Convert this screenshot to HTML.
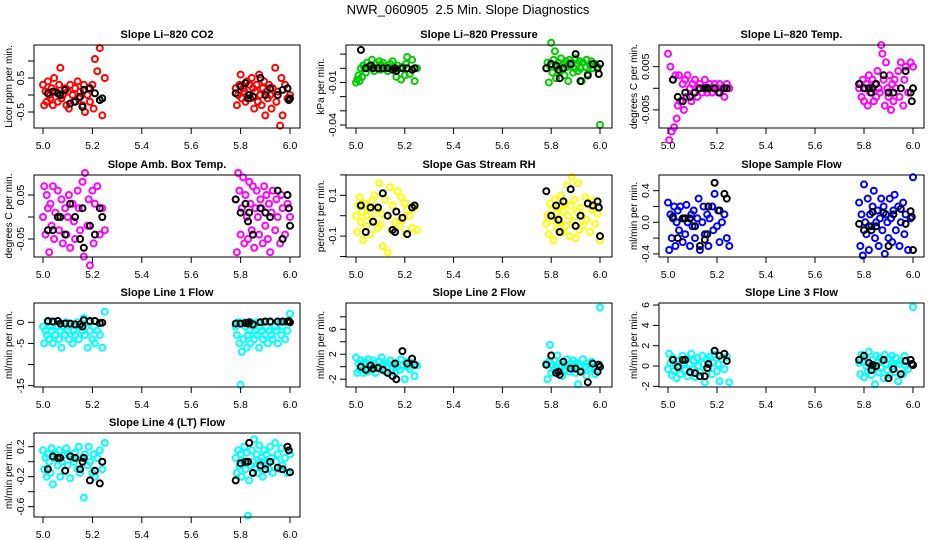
<!DOCTYPE html>
<html><head><meta charset="utf-8"><style>
html,body{margin:0;padding:0;background:#fff}
svg{display:block;font-family:"Liberation Sans",Arial,sans-serif}
</style></head><body>
<svg id="chart" width="936" height="540" viewBox="0 0 936 540">
<rect x="0" y="0" width="936" height="540" fill="#fff"/>
<text x="468" y="14" text-anchor="middle" font-size="13" xml:space="preserve">NWR_060905  2.5 Min. Slope Diagnostics</text>
</svg>
<script>
// shared time axis (days)
const times = [5.00,5.005,5.01,5.015,5.02,5.025,5.03,5.035,5.04,5.045,5.05,5.06,5.065,5.07,5.075,5.08,5.09,5.095,5.10,5.105,5.11,5.12,5.125,5.13,5.14,5.145,5.15,5.16,5.165,5.17,5.18,5.185,5.19,5.20,5.205,5.21,5.22,5.23,5.24,5.25,
5.78,5.785,5.79,5.795,5.80,5.805,5.81,5.815,5.82,5.825,5.83,5.835,5.84,5.845,5.85,5.855,5.86,5.865,5.87,5.875,5.88,5.885,5.89,5.895,5.90,5.905,5.91,5.915,5.92,5.925,5.93,5.94,5.945,5.95,5.96,5.965,5.97,5.98,5.99,6.00];
const blackTimes = [5.02,5.04,5.06,5.07,5.09,5.11,5.13,5.15,5.16,5.165,5.19,5.21,5.23,5.24,5.78,5.80,5.82,5.83,5.835,5.85,5.88,5.90,5.92,5.95,5.97,5.99,5.995,6.00];
const xTicks = [5.0,5.2,5.4,5.6,5.8,6.0];
const xTickLabels = ["5.0","5.2","5.4","5.6","5.8","6.0"];

const co2Vals = [0.3,-0.3,0.1,-0.2,0.4,0.0,-0.1,0.2,-0.3,0.5,0.1,-0.2,0.3,0.8,-0.1,0.0,0.2,-0.3,0.1,-0.4,0.3,0.0,-0.2,0.2,0.4,-0.1,0.1,-0.3,0.3,-0.5,0.0,0.2,-0.2,0.3,-0.4,1.06,0.7,1.38,-0.6,0.5,
0.2,-0.3,0.0,0.3,0.6,-0.1,0.2,0.1,-0.2,0.4,0.0,0.3,-0.1,0.5,0.2,-0.4,0.1,0.3,-0.2,0.6,0.0,-0.3,0.2,0.4,-0.6,0.1,-0.1,0.3,0.0,-0.4,0.2,0.8,-0.2,0.1,-0.9,0.5,-0.6,0.3,-0.1,0.0];
const co2Black = [0.05,0.1,0.05,0.0,0.15,-0.25,-0.2,-0.05,-0.35,0.15,0.2,0.05,-0.15,-0.1,0.05,0.25,0.35,-0.1,0.0,-0.05,0.5,0.0,0.2,0.0,0.15,0.2,-0.15,-0.1];

const presVals = [-0.01,-0.008,-0.005,-0.009,0.0,-0.006,0.002,0.0,-0.003,0.004,0.0,0.002,0.006,0.001,-0.002,0.003,0.0,0.005,-0.001,0.002,0.004,0.0,0.001,-0.002,0.003,0.0,0.005,-0.001,-0.006,0.002,0.0,-0.008,0.001,-0.005,0.003,0.008,-0.004,0.006,-0.009,0.0,
0.0,0.004,-0.01,0.002,0.018,-0.003,0.006,0.012,-0.007,0.001,0.004,-0.002,0.007,0.0,0.003,-0.005,0.005,0.001,-0.009,0.006,0.002,0.004,-0.003,0.0,0.007,0.003,-0.002,0.005,0.0,-0.009,0.004,0.001,0.006,-0.004,0.002,0.005,0.0,0.003,0.001,-0.04];
const presBlack = [0.013,0.0,0.002,0.0,0.0,0.0,0.0,-0.001,0.0,-0.002,0.0,0.0,-0.001,0.0,0.0,0.003,0.002,-0.001,-0.007,0.0,0.003,0.01,-0.009,-0.005,0.003,0.0,-0.004,0.003];

const tempVals = [0.008,-0.012,0.005,-0.01,0.002,-0.009,0.003,-0.007,-0.004,0.003,-0.003,0.001,-0.005,0.002,-0.002,0.003,0.0,-0.003,0.001,-0.001,0.002,-0.002,0.0,0.001,-0.001,0.0,0.002,-0.001,0.0,0.001,-0.001,0.0,0.001,0.0,-0.001,0.001,0.0,-0.002,0.001,0.0,
0.0,0.001,-0.002,0.002,-0.003,0.0,0.001,-0.004,0.003,-0.001,0.0,0.002,-0.003,0.001,-0.002,0.004,0.0,-0.001,0.01,0.008,0.002,-0.004,0.006,0.0,-0.002,0.003,-0.005,0.001,-0.003,0.002,0.0,0.004,-0.002,0.006,-0.004,0.002,0.005,-0.001,0.006,0.005];
const tempBlack = [0.002,-0.002,-0.003,-0.001,-0.002,-0.001,0.0,0.0,0.0,0.0,0.0,-0.001,0.0,0.0,0.001,0.0,0.0,-0.001,0.0,0.001,0.003,-0.001,-0.001,0.0,0.004,-0.001,-0.003,0.0];

const ambVals = [0.0,0.07,-0.04,0.05,0.02,-0.08,0.03,-0.02,0.07,-0.05,0.01,0.06,-0.03,0.0,0.04,-0.06,0.02,-0.04,0.0,0.05,-0.07,0.03,-0.01,-0.05,0.06,0.02,-0.03,0.08,-0.09,0.1,-0.02,0.04,-0.11,0.06,-0.06,0.03,0.07,-0.04,0.02,-0.03,
0.04,-0.08,0.1,0.06,-0.04,0.02,0.09,-0.06,0.05,0.0,-0.05,0.08,0.03,-0.03,0.07,-0.07,0.02,0.06,0.0,-0.04,0.04,0.02,-0.06,0.07,-0.02,0.05,-0.05,0.03,-0.08,0.01,0.06,-0.03,0.04,0.0,-0.06,0.05,0.02,-0.04,0.03,0.0];
const ambBlack = [-0.03,-0.03,0.0,0.0,-0.04,0.03,0.0,-0.05,0.02,-0.07,-0.02,-0.04,0.02,0.0,0.04,0.01,0.03,-0.01,0.01,-0.04,0.02,0.01,0.0,0.06,-0.05,0.05,0.02,-0.02];

const rhVals = [0.0,-0.08,0.05,0.09,-0.03,0.02,-0.12,0.06,-0.05,0.0,0.04,-0.09,0.07,-0.02,0.1,0.03,-0.06,0.16,-0.04,0.01,-0.15,0.08,0.0,-0.18,0.14,-0.07,0.05,-0.03,0.02,0.12,-0.05,0.09,-0.02,0.06,-0.09,0.03,0.0,-0.06,0.04,-0.07,
-0.04,0.0,-0.09,0.06,-0.02,0.03,-0.12,0.08,0.01,-0.06,0.04,-0.03,0.1,-0.08,0.02,0.06,-0.05,0.15,0.0,-0.1,0.05,0.19,-0.03,0.08,-0.11,0.02,0.16,-0.07,0.04,0.0,-0.05,0.09,-0.02,0.06,-0.08,0.03,0.07,-0.04,0.01,-0.12];
const rhBlack = [0.05,-0.08,0.04,-0.03,0.04,0.11,0.0,-0.07,-0.08,0.02,-0.01,-0.09,0.04,0.05,0.12,0.0,0.05,-0.02,-0.08,0.07,0.13,-0.05,0.0,0.06,0.05,0.07,0.04,-0.1];

const sfVals = [0.25,-0.35,0.1,-0.2,0.05,0.2,-0.3,0.0,0.15,-0.1,0.2,-0.25,0.05,-0.15,0.22,0.0,-0.3,0.1,-0.05,0.15,-0.2,0.05,0.3,-0.35,0.0,0.2,-0.15,0.1,-0.3,0.05,0.2,-0.1,0.36,-0.05,0.15,-0.25,0.0,0.1,-0.2,-0.3,
0.25,-0.3,0.1,-0.42,0.48,0.0,-0.15,0.3,-0.35,0.1,-0.05,0.2,0.4,-0.2,0.0,0.15,-0.3,0.05,0.3,-0.1,0.2,-0.4,0.1,0.0,-0.2,0.3,0.05,-0.25,0.15,0.35,-0.1,0.2,-0.3,0.0,0.25,-0.15,0.1,-0.35,0.05,0.57];
const sfBlack = [0.07,-0.2,0.05,0.05,0.05,-0.05,-0.3,-0.22,-0.15,0.2,0.5,0.15,0.36,0.3,-0.02,-0.1,-0.05,-0.1,0.13,-0.05,0.12,-0.3,0.1,0.17,-0.02,0.14,0.07,-0.35];

const l1Vals = [-1,-5,-2,-3,0,-4,-1,-2,-5,0,-3,-1,-4,-2,-6,-1,-3,0,-2,-4,-1,-5,-2,-3,0,-4,-1,-2,1,-3,-6,0,-2,-4,-1,-5,-2,-3,-6,2.5,
-1,-3,0,-5,-14.8,-7,-4,0,-1,-6,-3,-2,-5,0,-1,-4,-2,-3,0,-6,-1,-2,-4,0,-3,-1,-5,-2,0,-3,-4,-1,-2,-5,0,-3,-1,-4,-2,2];
const l1Black = [0.3,0.2,0.3,-0.3,-0.3,-0.3,-0.5,-0.5,-1,0.5,0.3,0.3,-0.2,-0.1,-0.3,-0.3,-0.2,-0.3,0,-0.5,0,0.2,0.2,0.2,0.2,0.2,0.3,0];

const l2Vals = [1.5,-1,0.5,-0.5,1,0,-1,0.8,0.3,-0.8,1.2,0,-0.5,1,0.5,-1,0,0.8,-0.3,1.5,0.2,-0.8,0.5,0,1,-0.6,0.3,-1,0.6,0,-0.5,1.2,0.2,-2,0.8,0,-0.4,0.6,-1.5,0.2,
0.5,-2,0.8,3.5,-1,0.3,-0.5,1,0,1.8,-0.8,0.5,0,-1.5,0.8,0.2,-0.5,1.2,0,-0.8,0.5,-0.3,1,0,-1,0.6,-2.8,0.3,0,-0.6,1.2,0,-1.5,0.5,-0.3,0.8,0,-1.2,0.4,9.5];
const l2Black = [0,-0.5,0.2,-0.3,-0.2,-0.5,-1,-1.5,0.5,-2,2.5,0.5,1.3,0.3,0.3,1.8,-1,-0.8,-1.3,0.8,-0.3,-0.3,-0.8,-2.5,0.5,-0.8,0.3,0];

const l3Vals = [-0.3,1.2,0.3,-0.9,0.8,-0.5,0.2,-1.2,0.5,0,-0.8,1,0.3,-0.4,0.7,-1,0.2,1.2,-0.3,0.5,-1.1,0.8,0,-0.6,1,0.2,-1.6,0.6,-0.2,0.9,-0.8,0.3,1.1,-0.5,0.2,-1.5,0.7,-0.3,0.9,-1.6,
0.3,-0.8,1.1,0.4,-1.1,0.8,0,-0.5,1.4,0.2,-0.9,0.6,0,-1.8,1,0.3,-0.6,0.8,-0.2,0.5,-1.2,1.1,0.2,-0.4,0.7,-0.9,0.3,1,0,-0.6,0.8,-1.5,0.2,0.5,-0.8,1,0,-0.3,0.6,5.8];
const l3Black = [0.6,-0.1,0.6,0.6,-0.6,-0.7,-1,-1,-0.2,0.2,1.5,1,1.2,0.5,0.6,1,0.3,-0.4,0.1,0,0.6,-1.2,-0.3,-0.8,0.5,0.6,0.2,0.1];

const l4Vals = [0.15,-0.1,0.05,-0.2,0.1,0.0,-0.15,0.18,-0.3,0.05,0.1,-0.05,0.15,-0.2,0.0,0.08,-0.12,0.18,-0.05,0.1,-0.22,0.05,0.0,0.12,-0.1,0.2,-0.15,0.05,-0.48,0.1,-0.05,0.2,0.0,-0.15,0.1,-0.2,0.05,0.15,-0.1,0.25,
0.05,-0.15,0.15,-0.05,0.1,-0.2,0.0,0.2,-0.1,0.12,-0.72,-0.25,-0.05,0.15,0.0,0.3,-0.1,0.1,-0.15,0.22,0.0,0.05,-0.2,0.15,-0.05,0.1,0.0,-0.1,0.2,0.05,-0.15,0.25,0.0,0.1,-0.1,0.18,-0.05,0.05,-0.15,0.1];
const l4Black = [-0.1,0.07,0.05,0.05,-0.12,0.07,0.05,-0.1,0.0,0.05,-0.25,-0.12,-0.29,0.0,-0.25,-0.02,0.0,0.0,0.25,-0.15,-0.05,-0.1,0.0,-0.08,-0.1,0.2,0.15,-0.14];

const titles = ["Slope Li\u2013820 CO2","Slope Li\u2013820 Pressure","Slope Li\u2013820 Temp.","Slope Amb. Box Temp.","Slope Gas Stream RH","Slope Sample Flow","Slope Line 1 Flow","Slope Line 2 Flow","Slope Line 3 Flow","Slope Line 4 (LT) Flow"];
const yTitles = ["Licor ppm per min.","kPa per min.","degrees C per min.","degrees C per min.","percent per min.","ml/min per min.","ml/min per min.","ml/min per min.","ml/min per min.","ml/min per min."];
const yTicks = [[-0.5,0,0.5,1],[0.01,0,-0.01,-0.02,-0.03,-0.04],[0.005,0,-0.005],[0.05,0,-0.05],[0.2,0.1,0,-0.1,-0.2],[0.4,0.2,0,-0.2,-0.4],[0,-5,-10,-15],[8,6,4,2,0,-2],[6,4,2,0,-2],[0.2,0,-0.2,-0.4,-0.6]];
const yTickLabels = [["-0.5","","0.5",""],["","","-0.01","","","-0.04"],["0.005","","-0.005"],["0.05","","-0.05"],["","0.1","","-0.1",""],["0.4","","0.0","","-0.4"],["0","-5","","-15"],["","6","","2","","-2"],["6","4","2","0","-2"],["0.2","","-0.2","","-0.6"]];
const series = [co2Vals,presVals,tempVals,ambVals,rhVals,sfVals,l1Vals,l2Vals,l3Vals,l4Vals];
const blackSeries = [co2Black,presBlack,tempBlack,ambBlack,rhBlack,sfBlack,l1Black,l2Black,l3Black,l4Black];
const colors = ["#ff0000","#00cd00","#ff00ff","#ff00ff","#ffff00","#0000ff","#00ffff","#00ffff","#00ffff","#00ffff"];
const panelNames = ["co2","pressure","li820-temp","amb-box-temp","gas-rh","sample-flow","line1-flow","line2-flow","line3-flow","line4-flow"];

// layout (not data)
const cols = [{x0:34,x1:300,a:43,b:290},{x0:346,x1:612,a:356,b:600},{x0:659,x1:924,a:668,b:913}];
const rows = [{y0:45,y1:128},{y0:175,y1:257},{y0:303,y1:387},{y0:433,y1:517}];
// y calibration: [value1,pixel1,value2,pixel2]
const ycal = [[0,95,0.5,78],[0,68.3,-0.04,125],[0,88.3,0.005,66.7],[0,217,0.05,195],[0,215.7,0.1,195.3],[0,222.3,0.4,190.7],[0,322.3,-15,385.7],[0,366.7,6,329.3],[0,366,6,305],[0,461.7,-0.6,506.7]];

const NS = "http://www.w3.org/2000/svg";
const svg = document.getElementById("chart");
function mk(tag, attrs, parent){const e=document.createElementNS(NS,tag);for(const k in attrs)e.setAttribute(k,attrs[k]);(parent||svg).appendChild(e);return e;}

for (let p=0;p<10;p++){
  const c=cols[p%3], r=rows[Math.floor(p/3)];
  const g=mk("g",{});
  
  
  const xs=v=>c.a+(v-5)*(c.b-c.a);
  const cal=ycal[p];
  const ys=v=>cal[1]+(v-cal[0])*(cal[3]-cal[1])/(cal[2]-cal[0]);
  const t=mk("text",{x:(c.x0+c.x1)/2,y:r.y0-7,"text-anchor":"middle","font-size":"11","font-weight":"bold"},g);
  t.textContent=titles[p];
  
  
  const yt=mk("text",{x:0,y:0,"text-anchor":"middle","font-size":"10",transform:`translate(${c.x0-22},${(r.y0+r.y1)/2}) rotate(-90)`},g);
  yt.textContent=yTitles[p];
  
  
  const pg=mk("g",{},g);
  
  
  series[p].forEach((v,i)=>{
    const pt=mk("circle",{cx:xs(times[i]).toFixed(1),cy:ys(v).toFixed(1),r:3,fill:"none",stroke:colors[p],"stroke-width":2},pg);
    
    
  });
  blackSeries[p].forEach((v,i)=>{
    const pt=mk("circle",{cx:xs(blackTimes[i]).toFixed(1),cy:ys(v).toFixed(1),r:3,fill:"none",stroke:"#000","stroke-width":2},pg);
    
    
  });
  const bx=mk("rect",{x:c.x0,y:r.y0,width:c.x1-c.x0,height:r.y1-r.y0,fill:"none",stroke:"#000","stroke-width":1},g);
  
  
  const xa=mk("g",{},g);
  
  
  xTicks.forEach((v,i)=>{
    const x=xs(v);
    mk("line",{x1:x,x2:x,y1:r.y1,y2:r.y1+6,stroke:"#000"},xa);
    const l=mk("text",{x:x,y:r.y1+21,"text-anchor":"middle","font-size":"10.5"},xa);
    l.textContent=xTickLabels[i];
    
    
  });
  const ya=mk("g",{},g);
  
  
  yTicks[p].forEach((v,i)=>{
    const y=ys(v);
    if (y<r.y0-3||y>r.y1+3) return;
    mk("line",{x1:c.x0-6,x2:c.x0,y1:y,y2:y,stroke:"#000"},ya);
    if (yTickLabels[p][i]){
      const l=mk("text",{x:0,y:0,"text-anchor":"middle","font-size":"10.5",transform:`translate(${c.x0-10},${y}) rotate(-90)`},ya);
      l.textContent=yTickLabels[p][i];
      
      
    }
  });
}
</script>
</body></html>
